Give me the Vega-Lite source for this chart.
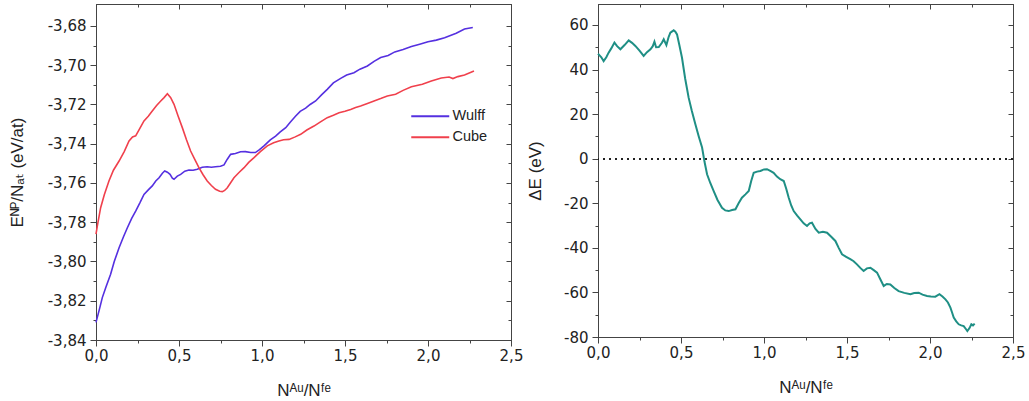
{
  "$schema": "https://vega.github.io/schema/vega-lite/v6.json",
  "padding": {"left": 7, "top": 3, "right": 0, "bottom": 0},
  "background": "white",
  "bounds": "flush",
  "spacing": 87,
  "config": {
    "view": {"stroke": "#444", "strokeWidth": 1},
    "font": "Liberation Sans, DejaVu Sans",
    "axis": {
      "grid": false,
      "labelFont": "DejaVu Sans",
      "titleFont": "Liberation Sans, DejaVu Sans",
      "labelFontSize": 15,
      "titleFontSize": 17,
      "titleFontWeight": "normal",
      "labelColor": "#222",
      "titleColor": "#222",
      "domainColor": "#444",
      "tickColor": "#444",
      "domainWidth": 1,
      "tickWidth": 1
    }
  },
  "datasets": {
    "energy": [
      {"x": 0.0, "E": -3.831, "s": "Wulff"},
      {"x": 0.02, "E": -3.8245, "s": "Wulff"},
      {"x": 0.038, "E": -3.8184, "s": "Wulff"},
      {"x": 0.06, "E": -3.813, "s": "Wulff"},
      {"x": 0.088, "E": -3.8065, "s": "Wulff"},
      {"x": 0.11, "E": -3.8, "s": "Wulff"},
      {"x": 0.139, "E": -3.793, "s": "Wulff"},
      {"x": 0.165, "E": -3.7875, "s": "Wulff"},
      {"x": 0.189, "E": -3.7828, "s": "Wulff"},
      {"x": 0.215, "E": -3.778, "s": "Wulff"},
      {"x": 0.239, "E": -3.7743, "s": "Wulff"},
      {"x": 0.265, "E": -3.77, "s": "Wulff"},
      {"x": 0.289, "E": -3.7658, "s": "Wulff"},
      {"x": 0.315, "E": -3.7635, "s": "Wulff"},
      {"x": 0.339, "E": -3.7615, "s": "Wulff"},
      {"x": 0.36, "E": -3.759, "s": "Wulff"},
      {"x": 0.38, "E": -3.7573, "s": "Wulff"},
      {"x": 0.4, "E": -3.755, "s": "Wulff"},
      {"x": 0.414, "E": -3.7539, "s": "Wulff"},
      {"x": 0.43, "E": -3.7545, "s": "Wulff"},
      {"x": 0.446, "E": -3.7556, "s": "Wulff"},
      {"x": 0.46, "E": -3.7575, "s": "Wulff"},
      {"x": 0.47, "E": -3.7581, "s": "Wulff"},
      {"x": 0.49, "E": -3.7565, "s": "Wulff"},
      {"x": 0.51, "E": -3.7556, "s": "Wulff"},
      {"x": 0.535, "E": -3.754, "s": "Wulff"},
      {"x": 0.56, "E": -3.7534, "s": "Wulff"},
      {"x": 0.585, "E": -3.7535, "s": "Wulff"},
      {"x": 0.61, "E": -3.753, "s": "Wulff"},
      {"x": 0.64, "E": -3.752, "s": "Wulff"},
      {"x": 0.67, "E": -3.7517, "s": "Wulff"},
      {"x": 0.695, "E": -3.752, "s": "Wulff"},
      {"x": 0.72, "E": -3.7517, "s": "Wulff"},
      {"x": 0.75, "E": -3.7515, "s": "Wulff"},
      {"x": 0.771, "E": -3.7508, "s": "Wulff"},
      {"x": 0.79, "E": -3.748, "s": "Wulff"},
      {"x": 0.811, "E": -3.7454, "s": "Wulff"},
      {"x": 0.84, "E": -3.745, "s": "Wulff"},
      {"x": 0.871, "E": -3.7441, "s": "Wulff"},
      {"x": 0.9, "E": -3.744, "s": "Wulff"},
      {"x": 0.932, "E": -3.7445, "s": "Wulff"},
      {"x": 0.96, "E": -3.7445, "s": "Wulff"},
      {"x": 0.985, "E": -3.743, "s": "Wulff"},
      {"x": 1.012, "E": -3.7411, "s": "Wulff"},
      {"x": 1.05, "E": -3.738, "s": "Wulff"},
      {"x": 1.082, "E": -3.7361, "s": "Wulff"},
      {"x": 1.11, "E": -3.734, "s": "Wulff"},
      {"x": 1.143, "E": -3.7318, "s": "Wulff"},
      {"x": 1.17, "E": -3.729, "s": "Wulff"},
      {"x": 1.203, "E": -3.7259, "s": "Wulff"},
      {"x": 1.23, "E": -3.7235, "s": "Wulff"},
      {"x": 1.263, "E": -3.7219, "s": "Wulff"},
      {"x": 1.29, "E": -3.72, "s": "Wulff"},
      {"x": 1.323, "E": -3.7182, "s": "Wulff"},
      {"x": 1.36, "E": -3.715, "s": "Wulff"},
      {"x": 1.393, "E": -3.7123, "s": "Wulff"},
      {"x": 1.43, "E": -3.709, "s": "Wulff"},
      {"x": 1.474, "E": -3.7067, "s": "Wulff"},
      {"x": 1.51, "E": -3.705, "s": "Wulff"},
      {"x": 1.554, "E": -3.7038, "s": "Wulff"},
      {"x": 1.59, "E": -3.702, "s": "Wulff"},
      {"x": 1.635, "E": -3.7004, "s": "Wulff"},
      {"x": 1.675, "E": -3.698, "s": "Wulff"},
      {"x": 1.715, "E": -3.6961, "s": "Wulff"},
      {"x": 1.76, "E": -3.695, "s": "Wulff"},
      {"x": 1.8, "E": -3.6932, "s": "Wulff"},
      {"x": 1.85, "E": -3.692, "s": "Wulff"},
      {"x": 1.9, "E": -3.6905, "s": "Wulff"},
      {"x": 1.95, "E": -3.6893, "s": "Wulff"},
      {"x": 2.0, "E": -3.688, "s": "Wulff"},
      {"x": 2.05, "E": -3.6872, "s": "Wulff"},
      {"x": 2.1, "E": -3.686, "s": "Wulff"},
      {"x": 2.17, "E": -3.6837, "s": "Wulff"},
      {"x": 2.22, "E": -3.6815, "s": "Wulff"},
      {"x": 2.27, "E": -3.6808, "s": "Wulff"},
      {"x": 0.0, "E": -3.786, "s": "Cube"},
      {"x": 0.01, "E": -3.781, "s": "Cube"},
      {"x": 0.028, "E": -3.7726, "s": "Cube"},
      {"x": 0.05, "E": -3.766, "s": "Cube"},
      {"x": 0.078, "E": -3.759, "s": "Cube"},
      {"x": 0.105, "E": -3.7535, "s": "Cube"},
      {"x": 0.139, "E": -3.7488, "s": "Cube"},
      {"x": 0.17, "E": -3.744, "s": "Cube"},
      {"x": 0.199, "E": -3.7386, "s": "Cube"},
      {"x": 0.22, "E": -3.7365, "s": "Cube"},
      {"x": 0.239, "E": -3.736, "s": "Cube"},
      {"x": 0.265, "E": -3.732, "s": "Cube"},
      {"x": 0.289, "E": -3.7284, "s": "Cube"},
      {"x": 0.315, "E": -3.726, "s": "Cube"},
      {"x": 0.339, "E": -3.7233, "s": "Cube"},
      {"x": 0.365, "E": -3.7205, "s": "Cube"},
      {"x": 0.39, "E": -3.7182, "s": "Cube"},
      {"x": 0.41, "E": -3.7165, "s": "Cube"},
      {"x": 0.43, "E": -3.7145, "s": "Cube"},
      {"x": 0.45, "E": -3.7165, "s": "Cube"},
      {"x": 0.47, "E": -3.7199, "s": "Cube"},
      {"x": 0.495, "E": -3.726, "s": "Cube"},
      {"x": 0.52, "E": -3.7318, "s": "Cube"},
      {"x": 0.545, "E": -3.738, "s": "Cube"},
      {"x": 0.57, "E": -3.7437, "s": "Cube"},
      {"x": 0.595, "E": -3.748, "s": "Cube"},
      {"x": 0.62, "E": -3.7522, "s": "Cube"},
      {"x": 0.645, "E": -3.7558, "s": "Cube"},
      {"x": 0.67, "E": -3.759, "s": "Cube"},
      {"x": 0.695, "E": -3.7613, "s": "Cube"},
      {"x": 0.72, "E": -3.7632, "s": "Cube"},
      {"x": 0.745, "E": -3.7642, "s": "Cube"},
      {"x": 0.761, "E": -3.7644, "s": "Cube"},
      {"x": 0.775, "E": -3.7638, "s": "Cube"},
      {"x": 0.791, "E": -3.7624, "s": "Cube"},
      {"x": 0.81, "E": -3.76, "s": "Cube"},
      {"x": 0.831, "E": -3.7573, "s": "Cube"},
      {"x": 0.86, "E": -3.7548, "s": "Cube"},
      {"x": 0.892, "E": -3.7522, "s": "Cube"},
      {"x": 0.92, "E": -3.7495, "s": "Cube"},
      {"x": 0.952, "E": -3.7471, "s": "Cube"},
      {"x": 0.99, "E": -3.744, "s": "Cube"},
      {"x": 1.032, "E": -3.7411, "s": "Cube"},
      {"x": 1.07, "E": -3.7395, "s": "Cube"},
      {"x": 1.102, "E": -3.7386, "s": "Cube"},
      {"x": 1.13, "E": -3.738, "s": "Cube"},
      {"x": 1.163, "E": -3.7378, "s": "Cube"},
      {"x": 1.2, "E": -3.7365, "s": "Cube"},
      {"x": 1.233, "E": -3.7352, "s": "Cube"},
      {"x": 1.27, "E": -3.733, "s": "Cube"},
      {"x": 1.313, "E": -3.731, "s": "Cube"},
      {"x": 1.35, "E": -3.729, "s": "Cube"},
      {"x": 1.393, "E": -3.7267, "s": "Cube"},
      {"x": 1.43, "E": -3.7255, "s": "Cube"},
      {"x": 1.464, "E": -3.7242, "s": "Cube"},
      {"x": 1.5, "E": -3.7235, "s": "Cube"},
      {"x": 1.534, "E": -3.7225, "s": "Cube"},
      {"x": 1.564, "E": -3.7215, "s": "Cube"},
      {"x": 1.594, "E": -3.7208, "s": "Cube"},
      {"x": 1.635, "E": -3.7195, "s": "Cube"},
      {"x": 1.675, "E": -3.7182, "s": "Cube"},
      {"x": 1.715, "E": -3.717, "s": "Cube"},
      {"x": 1.755, "E": -3.7157, "s": "Cube"},
      {"x": 1.805, "E": -3.7148, "s": "Cube"},
      {"x": 1.85, "E": -3.7128, "s": "Cube"},
      {"x": 1.9, "E": -3.711, "s": "Cube"},
      {"x": 1.966, "E": -3.7097, "s": "Cube"},
      {"x": 2.02, "E": -3.708, "s": "Cube"},
      {"x": 2.08, "E": -3.7065, "s": "Cube"},
      {"x": 2.127, "E": -3.706, "s": "Cube"},
      {"x": 2.15, "E": -3.7068, "s": "Cube"},
      {"x": 2.18, "E": -3.7058, "s": "Cube"},
      {"x": 2.22, "E": -3.705, "s": "Cube"},
      {"x": 2.277, "E": -3.7029, "s": "Cube"}
    ],
    "delta": [
      {"x": 0.0, "dE": 46.5},
      {"x": 0.004, "dE": 46.8},
      {"x": 0.02, "dE": 45.5},
      {"x": 0.034, "dE": 43.8},
      {"x": 0.05, "dE": 45.5},
      {"x": 0.064, "dE": 47.6},
      {"x": 0.08, "dE": 49.5},
      {"x": 0.099, "dE": 52.1},
      {"x": 0.115, "dE": 50.5},
      {"x": 0.135, "dE": 49.1},
      {"x": 0.16, "dE": 51.0},
      {"x": 0.185, "dE": 53.1},
      {"x": 0.205, "dE": 52.0},
      {"x": 0.225, "dE": 50.6},
      {"x": 0.25, "dE": 48.5},
      {"x": 0.275, "dE": 46.1},
      {"x": 0.295, "dE": 47.8},
      {"x": 0.316, "dE": 49.1},
      {"x": 0.33, "dE": 50.5},
      {"x": 0.34, "dE": 52.5},
      {"x": 0.35, "dE": 50.0},
      {"x": 0.366, "dE": 50.1},
      {"x": 0.385, "dE": 52.0},
      {"x": 0.396, "dE": 53.6},
      {"x": 0.412, "dE": 51.0},
      {"x": 0.425, "dE": 54.5},
      {"x": 0.436, "dE": 56.6},
      {"x": 0.456, "dE": 57.6},
      {"x": 0.466, "dE": 57.0},
      {"x": 0.476, "dE": 55.8},
      {"x": 0.49, "dE": 51.0},
      {"x": 0.506, "dE": 45.3},
      {"x": 0.525, "dE": 36.0},
      {"x": 0.546, "dE": 27.4},
      {"x": 0.565, "dE": 21.5},
      {"x": 0.587, "dE": 15.4},
      {"x": 0.607, "dE": 10.0},
      {"x": 0.627, "dE": 5.0},
      {"x": 0.642, "dE": -1.5},
      {"x": 0.657, "dE": -7.0},
      {"x": 0.677, "dE": -11.0},
      {"x": 0.697, "dE": -14.5},
      {"x": 0.72, "dE": -18.5},
      {"x": 0.747, "dE": -22.0},
      {"x": 0.767, "dE": -23.2},
      {"x": 0.787, "dE": -23.5},
      {"x": 0.808, "dE": -23.0},
      {"x": 0.828, "dE": -22.7},
      {"x": 0.847, "dE": -20.0},
      {"x": 0.867, "dE": -17.5},
      {"x": 0.888, "dE": -16.0},
      {"x": 0.908, "dE": -14.5},
      {"x": 0.923, "dE": -10.0},
      {"x": 0.938, "dE": -6.3},
      {"x": 0.958, "dE": -5.8},
      {"x": 0.978, "dE": -5.5},
      {"x": 1.0, "dE": -4.8},
      {"x": 1.018, "dE": -4.7},
      {"x": 1.038, "dE": -5.5},
      {"x": 1.058, "dE": -6.3},
      {"x": 1.078, "dE": -8.0},
      {"x": 1.098, "dE": -9.2},
      {"x": 1.119, "dE": -10.0},
      {"x": 1.134, "dE": -13.5},
      {"x": 1.149, "dE": -17.5},
      {"x": 1.164, "dE": -21.0},
      {"x": 1.179, "dE": -23.5},
      {"x": 1.2, "dE": -25.5},
      {"x": 1.219, "dE": -27.2},
      {"x": 1.239, "dE": -29.0},
      {"x": 1.259, "dE": -30.2},
      {"x": 1.275, "dE": -29.0},
      {"x": 1.289, "dE": -28.7},
      {"x": 1.31, "dE": -31.5},
      {"x": 1.33, "dE": -33.2},
      {"x": 1.355, "dE": -32.8},
      {"x": 1.38, "dE": -33.2},
      {"x": 1.405, "dE": -35.0},
      {"x": 1.43, "dE": -36.9},
      {"x": 1.45, "dE": -40.0},
      {"x": 1.47, "dE": -42.9},
      {"x": 1.495, "dE": -44.0},
      {"x": 1.52, "dE": -45.1},
      {"x": 1.54, "dE": -46.0},
      {"x": 1.56, "dE": -47.4},
      {"x": 1.58, "dE": -49.0},
      {"x": 1.6, "dE": -50.4},
      {"x": 1.62, "dE": -49.2},
      {"x": 1.641, "dE": -48.9},
      {"x": 1.661, "dE": -50.0},
      {"x": 1.681, "dE": -51.1},
      {"x": 1.7, "dE": -54.0},
      {"x": 1.721, "dE": -57.1},
      {"x": 1.74, "dE": -56.2},
      {"x": 1.761, "dE": -56.4},
      {"x": 1.785, "dE": -58.0},
      {"x": 1.811, "dE": -59.4},
      {"x": 1.845, "dE": -60.2},
      {"x": 1.882, "dE": -60.8},
      {"x": 1.905, "dE": -60.3},
      {"x": 1.932, "dE": -60.1},
      {"x": 1.955, "dE": -61.0},
      {"x": 1.982, "dE": -61.6},
      {"x": 2.005, "dE": -61.8},
      {"x": 2.032, "dE": -61.9},
      {"x": 2.057, "dE": -60.8},
      {"x": 2.075, "dE": -61.8},
      {"x": 2.093, "dE": -63.1},
      {"x": 2.108, "dE": -64.5},
      {"x": 2.123, "dE": -66.8},
      {"x": 2.133, "dE": -69.0},
      {"x": 2.143, "dE": -71.3},
      {"x": 2.158, "dE": -73.0},
      {"x": 2.173, "dE": -74.3},
      {"x": 2.188, "dE": -74.8},
      {"x": 2.203, "dE": -75.1},
      {"x": 2.215, "dE": -76.3},
      {"x": 2.225, "dE": -77.3},
      {"x": 2.238, "dE": -76.0},
      {"x": 2.249, "dE": -74.3},
      {"x": 2.259, "dE": -74.8},
      {"x": 2.269, "dE": -74.0}
    ]
  },
  "hconcat": [
    {
      "width": 415,
      "height": 336,
      "data": {"name": "energy"},
      "resolve": {"axis": {"x": "independent", "y": "independent"}},
      "layer": [
        {
          "mark": {"type": "line", "strokeWidth": 1.6},
          "encoding": {
            "x": {
              "field": "x", "type": "quantitative",
              "scale": {"domain": [0, 2.5], "nice": false, "zero": false},
              "axis": {
                "orient": "bottom",
                "title": "Nᴬᵘ/Nᶠᵉ",
                "values": [0, 0.25, 0.5, 0.75, 1, 1.25, 1.5, 1.75, 2, 2.25, 2.5],
                "labelExpr": "abs(datum.value*2 - round(datum.value*2)) < 1e-6 ? replace(format(datum.value, '.1f'), '.', ',') : ''",
                "tickSize": {"condition": {"test": "abs(datum.value*2 - round(datum.value*2)) < 1e-6", "value": 6}, "value": 3},
                "labelPadding": 2,
                "titlePadding": 19,
                "labelFlush": false,
                "labelOverlap": false
              }
            },
            "y": {
              "field": "E", "type": "quantitative",
              "scale": {"domain": [-3.84, -3.6688], "nice": false, "zero": false},
              "axis": {
                "orient": "left",
                "title": "Eᴺᴾ/Nₐₜ (eV/at)",
                "values": [-3.84, -3.83, -3.82, -3.81, -3.8, -3.79, -3.78, -3.77, -3.76, -3.75, -3.74, -3.73, -3.72, -3.71, -3.7, -3.69, -3.68],
                "labelExpr": "abs(datum.value*50 - round(datum.value*50)) < 1e-6 ? replace(replace(format(datum.value, '.2f'), '.', ','), '\u2212', '-') : ''",
                "tickSize": {"condition": {"test": "abs(datum.value*50 - round(datum.value*50)) < 1e-6", "value": 6}, "value": 3},
                "labelPadding": 4,
                "titlePadding": 21,
                "labelFlush": false,
                "labelOverlap": false
              }
            },
            "color": {
              "field": "s", "type": "nominal",
              "scale": {"domain": ["Wulff", "Cube"], "range": ["#5530e0", "#f0404c"]},
              "legend": {
                "orient": "none",
                "legendX": 341,
                "legendY": 105,
                "title": null,
                "symbolType": "M-6.6,0H1",
                "symbolSize": 100,
                "symbolStrokeWidth": 2,
                "labelFontSize": 14.5,
                "labelFont": "Liberation Sans, DejaVu Sans",
                "labelColor": "#222",
                "labelOffset": 1,
                "rowPadding": 6,
                "padding": 0
              }
            }
          }
        },
        {
          "mark": {"type": "line", "opacity": 0},
          "encoding": {
            "x": {
              "field": "x", "type": "quantitative",
              "axis": {
                "orient": "top", "title": null, "labels": false,
                "values": [0, 0.25, 0.5, 0.75, 1, 1.25, 1.5, 1.75, 2, 2.25, 2.5],
                "tickSize": {"condition": {"test": "abs(datum.value*2 - round(datum.value*2)) < 1e-6", "value": -5}, "value": -3}
              }
            },
            "y": {
              "field": "E", "type": "quantitative",
              "axis": {
                "orient": "right", "title": null, "labels": false,
                "values": [-3.84, -3.83, -3.82, -3.81, -3.8, -3.79, -3.78, -3.77, -3.76, -3.75, -3.74, -3.73, -3.72, -3.71, -3.7, -3.69, -3.68],
                "tickSize": {"condition": {"test": "abs(datum.value*50 - round(datum.value*50)) < 1e-6", "value": -5}, "value": -3}
              }
            },
            "detail": {"field": "s"}
          }
        }
      ]
    },
    {
      "width": 415,
      "height": 333,
      "data": {"name": "delta"},
      "resolve": {"axis": {"x": "independent", "y": "independent"}},
      "layer": [
        {
          "mark": {"type": "rule", "strokeDash": [2, 4], "color": "#222", "strokeWidth": 1.3},
          "encoding": {
            "y": {"datum": 0, "type": "quantitative", "axis": null}
          }
        },
        {
          "mark": {"type": "line", "strokeWidth": 2, "color": "#1f8f85"},
          "encoding": {
            "x": {
              "field": "x", "type": "quantitative",
              "scale": {"domain": [0, 2.5], "nice": false, "zero": false},
              "axis": {
                "orient": "bottom",
                "title": "Nᴬᵘ/Nᶠᵉ",
                "values": [0, 0.25, 0.5, 0.75, 1, 1.25, 1.5, 1.75, 2, 2.25, 2.5],
                "labelExpr": "abs(datum.value*2 - round(datum.value*2)) < 1e-6 ? replace(format(datum.value, '.1f'), '.', ',') : ''",
                "tickSize": {"condition": {"test": "abs(datum.value*2 - round(datum.value*2)) < 1e-6", "value": 6}, "value": 3},
                "labelPadding": 2,
                "titlePadding": 19,
                "labelFlush": false,
                "labelOverlap": false
              }
            },
            "y": {
              "field": "dE", "type": "quantitative",
              "scale": {"domain": [-80, 69.42], "nice": false, "zero": false},
              "axis": {
                "orient": "left",
                "title": "ΔE (eV)",
                "values": [-80, -70, -60, -50, -40, -30, -20, -10, 0, 10, 20, 30, 40, 50, 60],
                "labelExpr": "abs(datum.value/20 - round(datum.value/20)) < 1e-6 ? replace(format(datum.value, 'd'), '\u2212', '-') : ''",
                "tickSize": {"condition": {"test": "abs(datum.value/20 - round(datum.value/20)) < 1e-6", "value": 6}, "value": 3},
                "labelPadding": 4,
                "titlePadding": 19,
                "labelFlush": false,
                "labelOverlap": false
              }
            }
          }
        },
        {
          "mark": {"type": "line", "opacity": 0},
          "encoding": {
            "x": {
              "field": "x", "type": "quantitative",
              "axis": {
                "orient": "top", "title": null, "labels": false,
                "values": [0, 0.25, 0.5, 0.75, 1, 1.25, 1.5, 1.75, 2, 2.25, 2.5],
                "tickSize": {"condition": {"test": "abs(datum.value*2 - round(datum.value*2)) < 1e-6", "value": -5}, "value": -3}
              }
            },
            "y": {
              "field": "dE", "type": "quantitative",
              "axis": {
                "orient": "right", "title": null, "labels": false,
                "values": [-80, -70, -60, -50, -40, -30, -20, -10, 0, 10, 20, 30, 40, 50, 60],
                "tickSize": {"condition": {"test": "abs(datum.value/20 - round(datum.value/20)) < 1e-6", "value": -5}, "value": -3}
              }
            }
          }
        }
      ]
    }
  ],
  "resolve": {"scale": {"color": "independent"}, "legend": {"color": "independent"}}
}
